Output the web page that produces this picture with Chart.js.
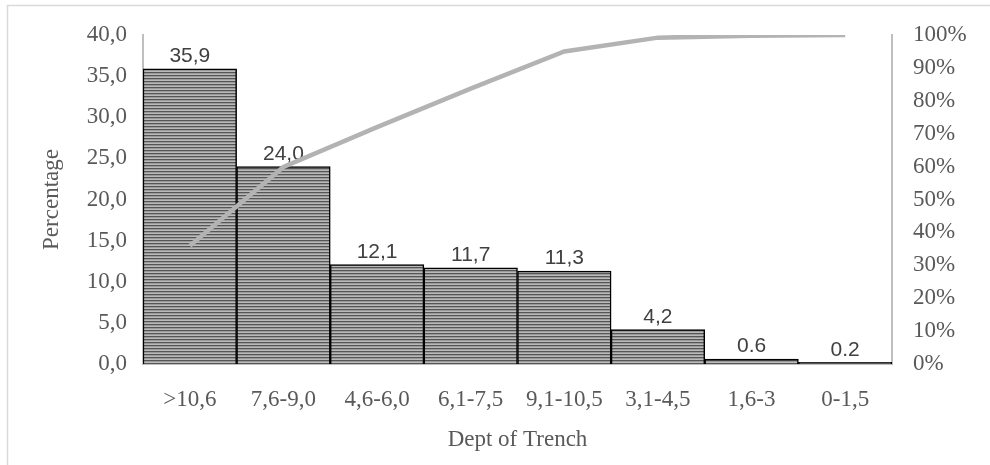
<!DOCTYPE html>
<html>
<head>
<meta charset="utf-8">
<script src="https://cdn.jsdelivr.net/npm/chart.js@4.4.1/dist/chart.umd.min.js"></script>
<style>
  html, body { margin: 0; padding: 0; background: #ffffff; }
  #wrap { width: 990px; height: 465px; position: relative; }
</style>
</head>
<body>
<div id="wrap"><canvas id="chart" width="990" height="465"></canvas></div>
<script>
// Trench depth classes (m), ordered by share
const categories = ['>10,6', '7,6-9,0', '4,6-6,0', '6,1-7,5', '9,1-10,5', '3,1-4,5', '1,6-3', '0-1,5'];
// Share of each class (%)
const percentages = [35.9, 24.0, 12.1, 11.7, 11.3, 4.2, 0.6, 0.2];
// Running total of the shares (%)
const cumulativePercent = [35.9, 59.9, 72.0, 83.7, 95.0, 99.2, 99.8, 100.0];
// Decimal mark used in each bar's value label
const labelDecimalMarks = [',', ',', ',', ',', ',', ',', '.', '.'];

const TICK_FONT = { family: "'Liberation Serif', 'Times New Roman', serif", size: 23 };
const AXIS_GRAY = '#bfbfbf';
const TEXT_GRAY = '#595959';

// Horizontal-stripe fill for the bars
function makeStripePattern() {
  const p = document.createElement('canvas');
  p.width = 4; p.height = 3;
  const g = p.getContext('2d');
  g.fillStyle = '#555555'; g.fillRect(0, 0, 4, 1);
  g.fillStyle = '#9a9a9a'; g.fillRect(0, 1, 4, 1);
  g.fillStyle = '#bababa'; g.fillRect(0, 2, 4, 1);
  return document.getElementById('chart').getContext('2d').createPattern(p, 'repeat');
}

// Thin frame around the whole figure
const framePlugin = {
  id: 'frame',
  beforeDraw(chart) {
    const ctx = chart.ctx;
    ctx.save();
    ctx.strokeStyle = '#d9d9d9';
    ctx.lineWidth = 1.5;
    ctx.strokeRect(7.5, 5.5, 1000, 480);
    ctx.restore();
  }
};

// Value labels above each bar
const barLabelPlugin = {
  id: 'barLabels',
  afterDatasetDraw(chart, args) {
    if (args.meta.type !== 'bar') return;
    const ctx = chart.ctx;
    ctx.save();
    ctx.font = "21px 'Liberation Sans', Arial, sans-serif";
    ctx.fillStyle = '#404040';
    ctx.textAlign = 'center';
    ctx.textBaseline = 'bottom';
    args.meta.data.forEach((bar, i) => {
      const text = percentages[i].toFixed(1).replace('.', labelDecimalMarks[i]);
      ctx.fillText(text, bar.x, bar.y - 2);
    });
    ctx.restore();
  }
};

new Chart(document.getElementById('chart'), {
  data: {
    labels: categories,
    datasets: [
      {
        type: 'bar',
        label: 'Percentage',
        data: percentages,
        yAxisID: 'y',
        backgroundColor: makeStripePattern(),
        borderColor: '#000000',
        borderWidth: 1.5,
        barPercentage: 1.0,
        categoryPercentage: 1.0,
        order: 2
      },
      {
        type: 'line',
        label: 'Cumulative',
        data: cumulativePercent,
        yAxisID: 'yRight',
        borderColor: '#b3b3b3',
        borderWidth: 4.5,
        pointRadius: 0,
        tension: 0,
        fill: false,
        order: 1
      }
    ]
  },
  options: {
    responsive: false,
    animation: false,
    devicePixelRatio: 1,
    layout: { padding: { top: 35, left: 0, right: 0, bottom: 0 } },
    plugins: {
      legend: { display: false },
      tooltip: { enabled: false }
    },
    scales: {
      x: {
        grid: { display: false, drawTicks: false },
        border: { display: true, color: AXIS_GRAY, width: 2 },
        ticks: { color: TEXT_GRAY, font: TICK_FONT, padding: 22, maxRotation: 0 },
        title: {
          display: true, text: 'Dept of Trench', color: TEXT_GRAY, font: TICK_FONT,
          padding: { top: 0, bottom: 11 }
        },
        afterFit(s) { s.height = 101; }
      },
      y: {
        position: 'left',
        min: 0, max: 40,
        grid: { display: false, drawTicks: false },
        border: { display: true, color: AXIS_GRAY, width: 2 },
        ticks: {
          stepSize: 5, color: TEXT_GRAY, font: TICK_FONT, padding: 16,
          callback: v => v.toFixed(1).replace('.', ',')
        },
        title: {
          display: true, text: 'Percentage', color: TEXT_GRAY, font: TICK_FONT,
          padding: { top: 38, bottom: 0 }
        },
        afterFit(s) { s.width = 143; }
      },
      yRight: {
        position: 'right',
        min: 0, max: 100,
        grid: { display: false, drawTicks: false },
        border: { display: true, color: AXIS_GRAY, width: 2 },
        ticks: {
          stepSize: 10, color: TEXT_GRAY, font: TICK_FONT, padding: 21,
          callback: v => v + '%'
        },
        afterFit(s) { s.width = 98; }
      }
    }
  },
  plugins: [framePlugin, barLabelPlugin]
});
</script>
</body>
</html>
